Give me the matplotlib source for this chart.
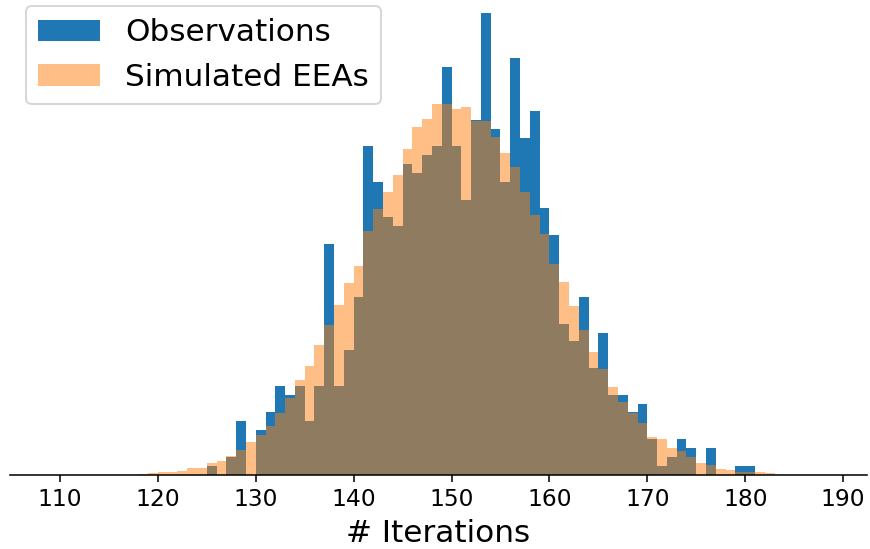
import numpy as np
import matplotlib
matplotlib.use("Agg")
import matplotlib.pyplot as plt

# Bin edges (width 1, integer edges)
bin_edges = list(range(118, 184))

# Observed counts per bin (118 ... 182)
obs_counts = [0, 0, 0, 0, 0, 0, 0, 1, 0, 2,
              6, 0, 5, 7, 10, 9, 10, 6, 10, 26,
              10, 14, 20, 37, 33, 29, 28, 35, 34, 36,
              37, 46, 37, 31, 40, 52, 39, 33, 47, 38,
              41, 30, 27, 17, 15, 20, 12, 16, 9, 9,
              7, 8, 4, 1, 2, 4, 3, 0, 3, 0,
              0, 1, 1, 0, 0]

# Simulated EEAs, density per bin (118 ... 182)
sim_density = [0.00011, 0.00014, 0.00028, 0.00028, 0.00043, 0.00073, 0.00073, 0.00133, 0.00149, 0.00209,
               0.00280, 0.00367, 0.00446, 0.00548, 0.00698, 0.00861, 0.01068, 0.01229, 0.01463, 0.01689,
               0.01912, 0.02160, 0.02348, 0.02743, 0.02989, 0.03184, 0.03376, 0.03667, 0.03923, 0.04014,
               0.04172, 0.04172, 0.04119, 0.04145, 0.03983, 0.03983, 0.03810, 0.03629, 0.03467, 0.03184,
               0.02921, 0.02714, 0.02375, 0.02175, 0.01896, 0.01633, 0.01381, 0.01192, 0.00981, 0.00816,
               0.00698, 0.00579, 0.00427, 0.00398, 0.00296, 0.00266, 0.00194, 0.00133, 0.00107, 0.00059,
               0.00051, 0.00032, 0.00032, 0.00032, 0.00014]

xlabel = "# Iterations"
labels = ["Observations", "Simulated EEAs"]

DPI = 140
fig = plt.figure(figsize=(870 / DPI, 549 / DPI), dpi=DPI)
ax = fig.add_axes([10 / 870, 74.5 / 549, 856.6 / 870, 484.2 / 549])

edges = np.array(bin_edges, dtype=float)
lefts = edges[:-1]
ax.hist(lefts, bins=edges, weights=obs_counts, density=True, color="C0", label=labels[0])
ax.hist(lefts, bins=edges, weights=sim_density, density=True, color="C1", alpha=0.5, label=labels[1])

ax.set_xlim(104.9, 192.4)
ax.set_xticks(range(110, 191, 10))
ax.tick_params(axis="x", labelsize=12)
ax.set_yticks([])
for s in ["top", "right", "left"]:
    ax.spines[s].set_visible(False)
ax.set_xlabel(xlabel, fontsize=16)
ax.legend(loc="upper left", fontsize=16)

fig.savefig("out.png", dpi=DPI)
